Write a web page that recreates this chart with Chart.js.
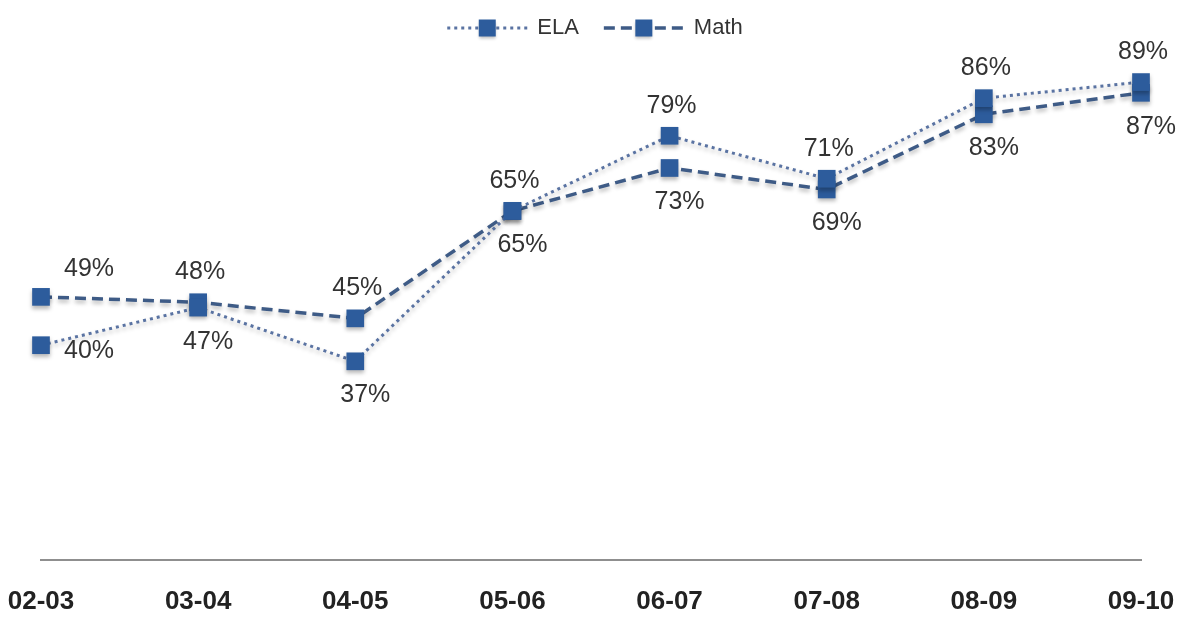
<!DOCTYPE html>
<html>
<head>
<meta charset="utf-8">
<script src="https://cdn.jsdelivr.net/npm/chart.js@4/dist/chart.umd.min.js"></script>
<style>
  html, body { margin: 0; padding: 0; background: #fff; }
</style>
</head>
<body>
<canvas id="myChart" width="1185" height="621"></canvas>
<script>
const years = ['02-03', '03-04', '04-05', '05-06', '06-07', '07-08', '08-09', '09-10'];
const elaScores = [40, 47, 37, 65, 79, 71, 86, 89];
const mathScores = [49, 48, 45, 65, 73, 69, 83, 87];
const seriesNames = ['ELA', 'Math'];

const markerColor = '#2d5c9c';

// shadows under lines/markers, then the % labels
const labelPlugin = {
  id: 'pctLabels',
  beforeDatasetsDraw(chart) {
    const ctx = chart.ctx;
    ctx.save();
    ctx.shadowColor = 'rgba(0,0,0,0.28)';
    ctx.shadowBlur = 4;
    ctx.shadowOffsetY = 3;
  },
  afterDatasetsDraw(chart) {
    const ctx = chart.ctx;
    ctx.restore();
    ctx.save();
    ctx.font = '25px "Liberation Sans", Arial, sans-serif';
    ctx.fillStyle = '#333';
    ctx.textAlign = 'center';
    ctx.textBaseline = 'middle';
    const sets = chart.data.datasets;
    sets.forEach(function (ds, di) {
      const meta = chart.getDatasetMeta(di);
      ds.data.forEach(function (v, i) {
        const other = sets[1 - di].data[i];
        const above = v > other || (v === other && di === 0);
        const pt = meta.data[i];
        let dx = above ? 2 : 10;
        let dy = above ? -30 : 34;
        if (i === 0) { dx = 48; dy = above ? -28 : 6; }
        ctx.fillText(v + '%', pt.x + dx, pt.y + dy);
      });
    });
    ctx.restore();
  },
  afterDraw(chart) {
    // legend: line sample with square marker, then name
    const ctx = chart.ctx;
    const sets = chart.data.datasets;
    ctx.save();
    ctx.font = '22px "Liberation Sans", Arial, sans-serif';
    const sampleW = 80, gapText = 10, gapItem = 25;
    let total = 0;
    sets.forEach(function (ds, i) {
      total += sampleW + gapText + ctx.measureText(ds.label).width;
      if (i < sets.length - 1) total += gapItem;
    });
    let x = (chart.chartArea.left + chart.chartArea.right) / 2 - total / 2 + 4;
    const y = 28;
    sets.forEach(function (ds) {
      ctx.save();
      ctx.strokeStyle = ds.borderColor;
      ctx.lineWidth = ds.borderWidth;
      ctx.setLineDash(ds.borderDash);
      ctx.beginPath();
      ctx.moveTo(x, y);
      ctx.lineTo(x + sampleW, y);
      ctx.stroke();
      ctx.setLineDash([]);
      ctx.shadowColor = 'rgba(0,0,0,0.25)';
      ctx.shadowBlur = 3;
      ctx.shadowOffsetY = 2;
      ctx.fillStyle = ds.pointBackgroundColor;
      ctx.fillRect(x + sampleW / 2 - 8.5, y - 8.5, 17, 17);
      ctx.restore();
      ctx.fillStyle = '#333';
      ctx.textAlign = 'left';
      ctx.textBaseline = 'middle';
      ctx.fillText(ds.label, x + sampleW + gapText, y);
      x += sampleW + gapText + ctx.measureText(ds.label).width + gapItem;
    });
    ctx.restore();
  }
};

const ctx = document.getElementById('myChart').getContext('2d');
const myLine = new Chart(ctx, {
  type: 'line',
  data: {
    labels: years,
    datasets: [
      {
        label: seriesNames[0],
        data: elaScores,
        borderColor: '#5a73a2',
        borderWidth: 3,
        borderDash: [3, 4],
        pointStyle: 'rect',
        pointRadius: 12.5,
        pointBackgroundColor: markerColor,
        pointBorderColor: markerColor,
        pointBorderWidth: 0,
        fill: false,
        tension: 0,
        clip: false
      },
      {
        label: seriesNames[1],
        data: mathScores,
        borderColor: '#3e5b86',
        borderWidth: 3.5,
        borderDash: [11, 6],
        pointStyle: 'rect',
        pointRadius: 12.5,
        pointBackgroundColor: markerColor,
        pointBorderColor: markerColor,
        pointBorderWidth: 0,
        fill: false,
        tension: 0,
        clip: false
      }
    ]
  },
  options: {
    responsive: false,
    animation: false,
    events: [],
    layout: { padding: { left: 41, right: 44, top: 23, bottom: 0 } },
    plugins: {
      legend: { display: false },
      tooltip: { enabled: false }
    },
    scales: {
      x: {
        offset: false,
        grid: { display: false, drawTicks: false },
        border: { display: true, color: '#8f8f8f', width: 2 },
        ticks: {
          color: '#222',
          padding: 3,
          maxRotation: 0,
          autoSkip: false,
          font: { family: '"Liberation Sans", Arial, sans-serif', size: 26, weight: 'bold', lineHeight: '78px' }
        },
        afterFit(scale) { scale.height = 61; }
      },
      y: {
        display: false,
        min: 0,
        max: 100
      }
    }
  },
  plugins: [labelPlugin]
});
</script>
</body>
</html>
